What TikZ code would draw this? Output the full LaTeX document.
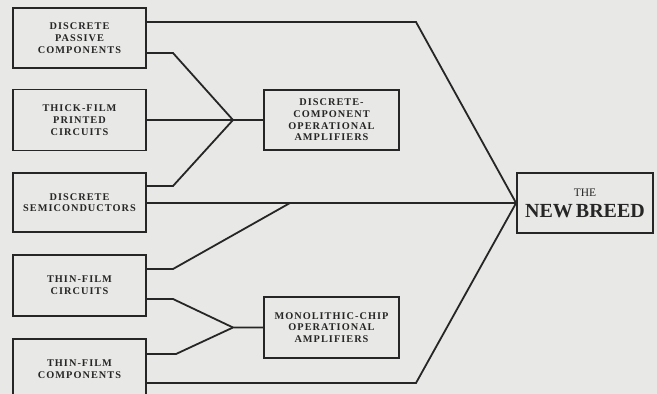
\documentclass[tikz,border=0pt]{standalone}
\usepackage{fontspec}
\setmainfont{Liberation Serif}
\newfontfamily\boxfont[LetterSpace=10]{Liberation Serif}
\definecolor{paper}{HTML}{E8E8E6}
\definecolor{ink}{HTML}{262626}
\begin{document}
\begin{tikzpicture}[x=1pt,y=-1pt,
  box/.style={draw=ink,line width=1.8pt,fill=paper,rectangle,inner sep=0pt,
    align=center,text=ink,font=\boxfont\bfseries\fontsize{10.3}{11.7}\selectfont},
  wire/.style={draw=ink,line width=1.8pt,line join=miter}]
\fill[paper] (0,0) rectangle (657,394);
\useasboundingbox (0,0) rectangle (657,394);
\begin{scope}
\clip (0,0) rectangle (657,394);
\node[box,minimum width=133pt,minimum height=60pt] (b1) at (79.5,38) {DISCRETE\\PASSIVE\\COMPONENTS};
\node[box,minimum width=133pt,minimum height=61pt] (b2) at (79.5,120) {THICK-FILM\\PRINTED\\CIRCUITS};
\node[box,minimum width=133pt,minimum height=59pt] (b3) at (79.5,202.5) {DISCRETE\\SEMICONDUCTORS};
\node[box,minimum width=133pt,minimum height=61pt] (b4) at (79.5,285.5) {THIN-FILM\\CIRCUITS};
\node[box,minimum width=133pt,minimum height=60pt] (b5) at (79.5,369) {THIN-FILM\\COMPONENTS};
\node[box,minimum width=135pt,minimum height=60pt] (dc) at (331.5,120) {DISCRETE-\\COMPONENT\\OPERATIONAL\\AMPLIFIERS};
\node[box,minimum width=135pt,minimum height=61pt] (mc) at (331.5,327.5) {MONOLITHIC-CHIP\\OPERATIONAL\\AMPLIFIERS};
\node[box,minimum width=136pt,minimum height=60pt,font=\bfseries\fontsize{20}{21}\selectfont] (nb) at (585,203)
  {{\fontsize{11.5}{13}\selectfont\mdseries THE}\\NEW\kern-2pt\ BREED};
\coordinate (j1) at (233,120);
\coordinate (j2) at (233,327.5);
\coordinate (m1) at (290,203);
\draw[wire] (b1.east |- 0,22) -- (416,22) -- (nb.west);
\draw[wire] (b1.east |- 0,53) -- (173,53) -- (j1);
\draw[wire] (b2.east) -- (j1) -- (dc.west);
\draw[wire] (b3.east |- 0,186) -- (173,186) -- (j1);
\draw[wire] (b3.east |- 0,203) -- (nb.west);
\draw[wire] (b4.east |- 0,269) -- (173,269) -- (m1);
\draw[wire] (b4.east |- 0,299) -- (173,299) -- (j2);
\draw[wire] (b5.east |- 0,354) -- (176,354) -- (j2) -- (mc.west);
\draw[wire] (b5.east |- 0,383) -- (416,383) -- (nb.west);
\end{scope}
\end{tikzpicture}
\end{document}
